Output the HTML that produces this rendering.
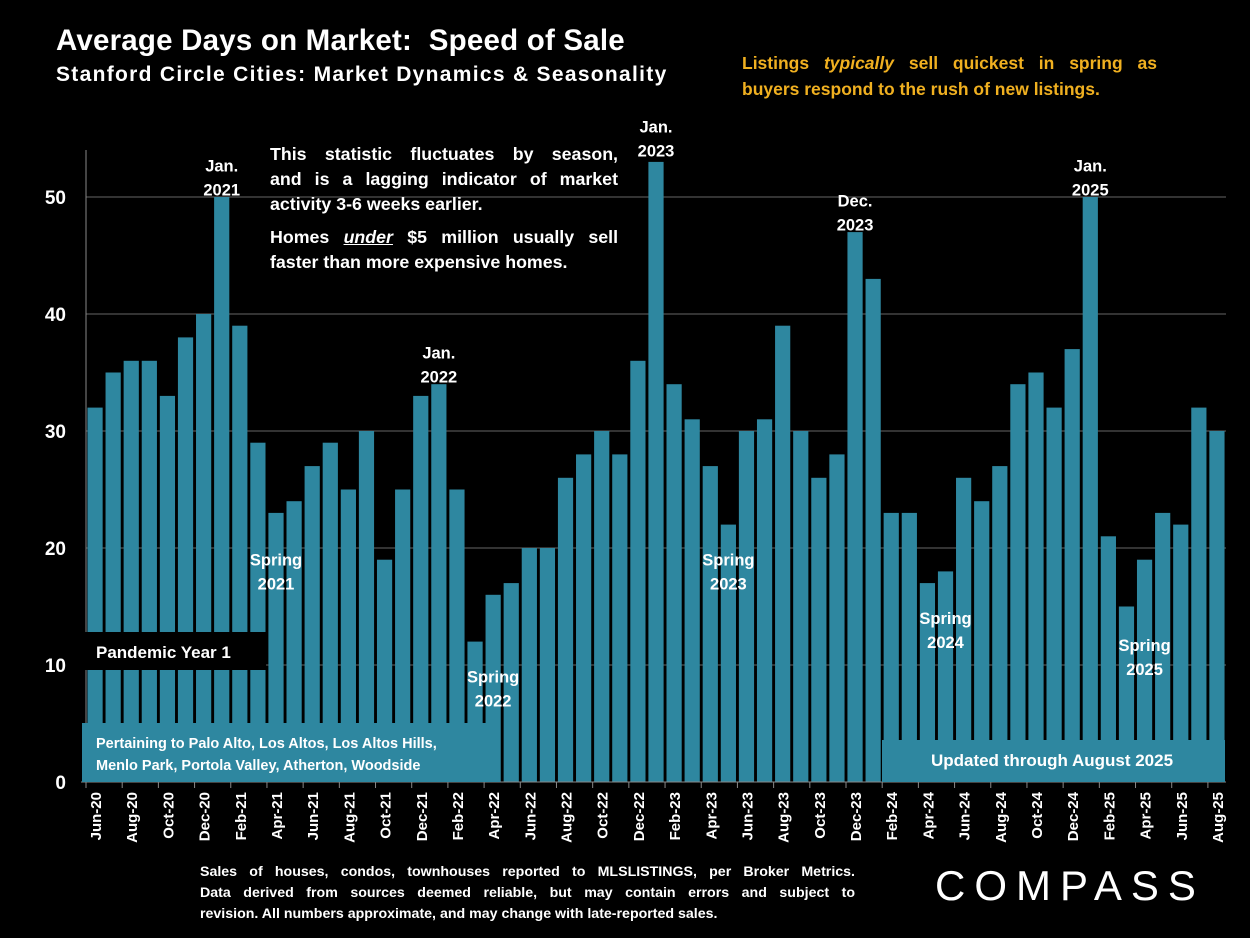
<!DOCTYPE html>
<html><head><meta charset="utf-8"><style>
body{margin:0;background:#000;width:1250px;height:938px;overflow:hidden;font-family:"Liberation Sans",sans-serif;color:#fff}
svg{position:absolute;left:0;top:0}
.t{position:absolute;font-weight:bold}
.j{text-align:justify;text-align-last:justify;white-space:nowrap}
</style></head><body>
<svg width="1250" height="938" id="chart"></svg>
<div class="t" style="left:56px;top:24px;font-size:29.5px;letter-spacing:0.2px">Average Days on Market:&nbsp; Speed of Sale</div>
<div class="t" style="left:56px;top:63px;font-size:21px;letter-spacing:1.3px">Stanford Circle Cities: Market Dynamics &amp; Seasonality</div>
<div class="t" style="left:742px;top:50px;width:415px;font-size:17.5px;line-height:26px;color:#f0b020"><div class="j">Listings <i>typically</i> sell quickest in spring as</div><div>buyers respond to the rush of new listings.</div></div>
<div class="t" style="left:270px;top:142px;width:348px;font-size:17.8px;line-height:25px"><div class="j">This statistic fluctuates by season,</div><div class="j">and is a lagging indicator of market</div><div>activity 3-6 weeks earlier.</div><div style="height:8px"></div><div class="j">Homes <i><u>under</u></i> $5 million usually sell</div><div>faster than more expensive homes.</div></div>
<div class="t" style="left:200px;top:862px;width:655px;font-size:14.2px;line-height:21px"><div class="j">Sales of houses, condos, townhouses reported to MLSLISTINGS, per Broker Metrics.</div><div class="j">Data derived from sources deemed reliable, but may contain errors and subject to</div><div>revision. All numbers approximate, and may change with late-reported sales.</div></div>
<div class="t" style="left:935px;top:862px;font-size:42px;font-weight:normal;letter-spacing:9px">COMPASS</div>
<script>
const months=["Jun-20","Jul-20","Aug-20","Sep-20","Oct-20","Nov-20","Dec-20","Jan-21","Feb-21","Mar-21","Apr-21","May-21","Jun-21","Jul-21","Aug-21","Sep-21","Oct-21","Nov-21","Dec-21","Jan-22","Feb-22","Mar-22","Apr-22","May-22","Jun-22","Jul-22","Aug-22","Sep-22","Oct-22","Nov-22","Dec-22","Jan-23","Feb-23","Mar-23","Apr-23","May-23","Jun-23","Jul-23","Aug-23","Sep-23","Oct-23","Nov-23","Dec-23","Jan-24","Feb-24","Mar-24","Apr-24","May-24","Jun-24","Jul-24","Aug-24","Sep-24","Oct-24","Nov-24","Dec-24","Jan-25","Feb-25","Mar-25","Apr-25","May-25","Jun-25","Jul-25","Aug-25"];
const days=[32,35,36,36,33,38,40,50,39,29,23,24,27,29,25,30,19,25,33,34,25,12,16,17,20,20,26,28,30,28,36,53,34,31,27,22,30,31,39,30,26,28,47,43,23,23,17,18,26,24,27,34,35,32,37,50,21,15,19,23,22,32,30];
const yTicks=[0,10,20,30,40,50];
const annotations=[["Jan.|2021",7,52.2],["Jan.|2022",19,36.2],["Jan.|2023",31,55.5],["Dec.|2023",42,49.2],["Jan.|2025",55,52.2],["Spring|2021",10,18.5],["Spring|2022",22,8.5],["Spring|2023",35,18.5],["Spring|2024",47,13.5],["Spring|2025",58,11.2]];
const svg=document.getElementById('chart');const NS="http://www.w3.org/2000/svg";
const x0=86,x1=1226,yB=782,yT=197;
const step=(x1-x0)/months.length;
const xC=i=>x0+step*(i+0.5);
const yS=v=>yB-(v/50)*(yB-yT);
function el(t,a,p){const e=document.createElementNS(NS,t);for(const k in a)e.setAttribute(k,a[k]);(p||svg).appendChild(e);return e;}
yTicks.forEach(v=>{
 if(v>0){const g=el('line',{x1:x0,x2:x1,y1:yS(v),y2:yS(v),stroke:'#666','stroke-width':1});
 
 }
 const t=el('text',{x:66,y:yS(v)+7,'text-anchor':'end','font-size':19,'font-weight':'bold',fill:'#fff'});t.textContent=v;
 
 
});
days.forEach((v,i)=>{
 const r=el('rect',{x:xC(i)-7.6,y:yS(v),width:15.2,height:yB-yS(v),fill:'#2e87a0'});
 
 
});
el('line',{x1:x0,x2:x0,y1:150,y2:yB,stroke:'#888'});
el('line',{x1:x0-5,x2:x1,y1:yB,y2:yB,stroke:'#888'});
months.forEach((m,i)=>{
 if(i%2==0){el('line',{x1:x0+step*i,x2:x0+step*i,y1:yB,y2:yB+6,stroke:'#888'});
 const t=el('text',{transform:`translate(${xC(i)+6},${yB+10}) rotate(-90)`,'text-anchor':'end','font-size':15,'font-weight':'bold',fill:'#fff'});t.textContent=m;
 
 }
});
annotations.forEach(a=>{const [txt,i,v]=a;const ls=txt.split('|');
 const t=el('text',{x:xC(i),y:yS(v),'text-anchor':'middle','font-size':16.5,'font-weight':'bold',fill:'#fff'});
 
 
 ls.forEach((l,k)=>{const s=el('tspan',{x:xC(i),dy:k?24:0},t);s.textContent=l;});
});
let b=el('rect',{x:80,y:632,width:186,height:38,fill:'#000'});


let t=el('text',{x:96,y:658,'font-size':17,'font-weight':'bold',fill:'#fff'});t.textContent='Pandemic Year 1';
b=el('rect',{x:82,y:723,width:418,height:59,fill:'#2e87a0'});


t=el('text',{x:96,y:748,'font-size':14.5,'font-weight':'bold',fill:'#fff'});t.textContent='Pertaining to Palo Alto, Los Altos, Los Altos Hills,';
t=el('text',{x:96,y:770,'font-size':14.5,'font-weight':'bold',fill:'#fff'});t.textContent='Menlo Park, Portola Valley, Atherton, Woodside';
b=el('rect',{x:882,y:740,width:343,height:42,fill:'#2e87a0'});


t=el('text',{x:1052,y:766,'text-anchor':'middle','font-size':17,'font-weight':'bold',fill:'#fff'});t.textContent='Updated through August 2025';
</script>
</body></html>
